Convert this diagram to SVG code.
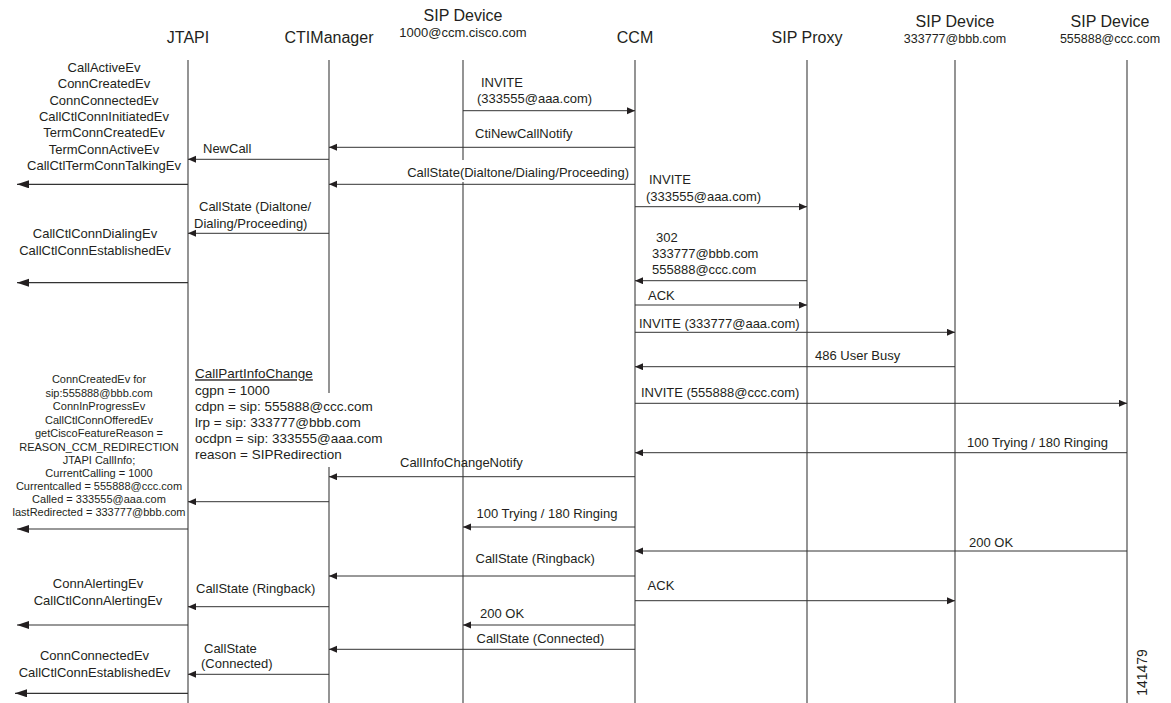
<svg xmlns="http://www.w3.org/2000/svg" width="1171" height="703" viewBox="0 0 1171 703">
<defs>
<marker id="a" markerUnits="userSpaceOnUse" markerWidth="9" markerHeight="8" refX="8" refY="3.5" orient="auto"><path d="M0,0 L8,3.5 L0,7 z" fill="#231f20"/></marker>
<marker id="b" markerUnits="userSpaceOnUse" markerWidth="13" markerHeight="9" refX="12" refY="4" orient="auto"><path d="M0,0 L12,4 L0,8 z" fill="#231f20"/></marker>
</defs>
<style>
text{font-family:"Liberation Sans",Arial,sans-serif;fill:#231f20}
.h{font-size:16px;text-anchor:middle}
.hs{font-size:12.5px;text-anchor:middle}
.t{font-size:13px}
.b{font-size:13.5px}
.c{font-size:13px;text-anchor:middle}
.s{font-size:11px;text-anchor:middle}
.ll{stroke:#666;stroke-width:1.4}
.m{stroke:#333;stroke-width:1;fill:none;marker-end:url(#a)}
.o{stroke:#333;stroke-width:1.2;fill:none;marker-end:url(#b)}
</style>
<rect width="1171" height="703" fill="#fff"/>
<g id="lifelines">
<line class="ll" x1="188" y1="60" x2="188" y2="703"/>
<line class="ll" x1="329" y1="60" x2="329" y2="703"/>
<line class="ll" x1="463" y1="60" x2="463" y2="703"/>
<line class="ll" x1="635" y1="60" x2="635" y2="703"/>
<line class="ll" x1="807" y1="60" x2="807" y2="703"/>
<line class="ll" x1="955" y1="60" x2="955" y2="703"/>
<line class="ll" x1="1127" y1="60" x2="1127" y2="703"/>
<rect x="398" y="160" width="233" height="22" fill="#fff"/>
<rect x="318" y="393" width="24" height="74" fill="#fff"/>
</g>
<g id="jtapi"><text class="h" x="188" y="43">JTAPI</text></g>
<g id="ctimanager"><text class="h" x="329" y="43">CTIManager</text></g>
<g id="sipdevice1000"><text class="h" x="463" y="21">SIP Device</text><text class="hs" x="463" y="37" style="font-size:13px">1000@ccm.cisco.com</text></g>
<g id="ccm"><text class="h" x="635" y="43">CCM</text></g>
<g id="sipproxy"><text class="h" x="807" y="43">SIP Proxy</text></g>
<g id="sipdevice333777"><text class="h" x="955" y="27">SIP Device</text><text class="hs" x="955" y="43">333777@bbb.com</text></g>
<g id="sipdevice555888"><text class="h" x="1110" y="27">SIP Device</text><text class="hs" x="1110" y="43">555888@ccc.com</text></g>
<g id="connectors">
<line class="m" x1="463" y1="110.7" x2="635" y2="110.7"/>
<line class="m" x1="635" y1="147.3" x2="329" y2="147.3"/>
<line class="m" x1="329" y1="159.3" x2="188" y2="159.3"/>
<line class="m" x1="635" y1="184.3" x2="329" y2="184.3"/>
<line class="o" x1="188" y1="184.3" x2="17" y2="184.3"/>
<line class="m" x1="635" y1="206.7" x2="807" y2="206.7"/>
<line class="m" x1="329" y1="233.3" x2="188" y2="233.3"/>
<line class="m" x1="807" y1="280.7" x2="635" y2="280.7"/>
<line class="o" x1="188" y1="282.7" x2="17" y2="282.7"/>
<line class="m" x1="635" y1="305" x2="807" y2="305"/>
<line class="m" x1="635" y1="332.3" x2="955" y2="332.3"/>
<line class="m" x1="955" y1="366.7" x2="635" y2="366.7"/>
<line class="m" x1="635" y1="403.3" x2="1127" y2="403.3"/>
<line class="m" x1="1127" y1="452.7" x2="635" y2="452.7"/>
<line class="m" x1="635" y1="476.7" x2="329" y2="476.7"/>
<line class="m" x1="329" y1="501.7" x2="188" y2="501.7"/>
<line class="m" x1="635" y1="527" x2="463" y2="527"/>
<line class="o" x1="188" y1="529" x2="17" y2="529"/>
<line class="m" x1="1127" y1="551" x2="635" y2="551"/>
<line class="m" x1="635" y1="576" x2="329" y2="576"/>
<line class="m" x1="635" y1="600.7" x2="955" y2="600.7"/>
<line class="m" x1="329" y1="606.7" x2="188" y2="606.7"/>
<line class="m" x1="635" y1="625" x2="463" y2="625"/>
<line class="o" x1="188" y1="625" x2="17" y2="625"/>
<line class="m" x1="635" y1="649.3" x2="329" y2="649.3"/>
<line class="m" x1="329" y1="674.3" x2="188" y2="674.3"/>
<line class="o" x1="188" y1="693.3" x2="15" y2="693.3"/>
</g>
<g id="labels">
<text class="t" x="481" y="86.7">INVITE</text>
<text class="t" x="477" y="103">(333555@aaa.com)</text>
<text class="t" x="475" y="137.7">CtiNewCallNotify</text>
<text class="t" x="203" y="153">NewCall</text>
<text class="t" x="629" y="177" text-anchor="end">CallState(Dialtone/Dialing/Proceeding)</text>
<text class="t" x="649" y="184">INVITE</text>
<text class="t" x="646" y="200.7">(333555@aaa.com)</text>
<text class="t" x="199" y="210.7">CallState (Dialtone/</text>
<text class="t" x="194" y="228">Dialing/Proceeding)</text>
<text class="t" x="656" y="241.7">302</text>
<text class="t" x="652" y="257.7">333777@bbb.com</text>
<text class="t" x="652" y="274.3">555888@ccc.com</text>
<text class="t" x="648" y="300">ACK</text>
<text class="t" x="639" y="327.7">INVITE (333777@aaa.com)</text>
<text class="t" x="815" y="360">486 User Busy</text>
<text class="t" x="641" y="397.3">INVITE (555888@ccc.com)</text>
<text class="t" x="967" y="446.5">100 Trying / 180 Ringing</text>
<text class="t" x="400" y="467">CallInfoChangeNotify</text>
<text class="t" x="476.5" y="518.3">100 Trying / 180 Ringing</text>
<text class="t" x="969" y="547">200 OK</text>
<text class="t" x="475.5" y="562.7">CallState (Ringback)</text>
<text class="t" x="647.6" y="590">ACK</text>
<text class="t" x="196" y="592.7">CallState (Ringback)</text>
<text class="t" x="480" y="617.7">200 OK</text>
<text class="t" x="476.5" y="642.7">CallState (Connected)</text>
<text class="t" x="204" y="652.7">CallState</text>
<text class="t" x="201" y="668.3">(Connected)</text>
</g>
<g id="jtapi-events-1">
<text class="c" x="104" y="72">CallActiveEv</text>
<text class="c" x="104" y="88.3">ConnCreatedEv</text>
<text class="c" x="104" y="104.6">ConnConnectedEv</text>
<text class="c" x="104" y="120.9">CallCtlConnInitiatedEv</text>
<text class="c" x="104" y="137.2">TermConnCreatedEv</text>
<text class="c" x="104" y="153.5">TermConnActiveEv</text>
<text class="c" x="104" y="169.8">CallCtlTermConnTalkingEv</text>
</g>
<g id="jtapi-events-2">
<text class="c" x="95" y="238.3">CallCtlConnDialingEv</text>
<text class="c" x="95" y="255">CallCtlConnEstablishedEv</text>
</g>
<g id="callpartinfochange">
<text class="b" x="195" y="378.3" text-decoration="underline">CallPartInfoChange </text>
<text class="b" x="195" y="395">cgpn = 1000</text>
<text class="b" x="195" y="411">cdpn = sip: 555888@ccc.com</text>
<text class="b" x="195" y="427">lrp = sip: 333777@bbb.com</text>
<text class="b" x="195" y="443.3">ocdpn = sip: 333555@aaa.com</text>
<text class="b" x="195" y="459.3">reason = SIPRedirection</text>
</g>
<g id="jtapi-events-3">
<text class="s" x="99" y="383.3">ConnCreatedEv for</text>
<text class="s" x="99" y="396.8">sip:555888@bbb.com</text>
<text class="s" x="99" y="410.3">ConnInProgressEv</text>
<text class="s" x="99" y="423.8">CallCtlConnOfferedEv</text>
<text class="s" x="99" y="437.3">getCiscoFeatureReason =</text>
<text class="s" x="99" y="450.7">REASON_CCM_REDIRECTION</text>
<text class="s" x="99" y="463.5">JTAPI CallInfo;</text>
<text class="s" x="99" y="476.5">CurrentCalling = 1000</text>
<text class="s" x="99" y="489.5">Currentcalled = 555888@ccc.com</text>
<text class="s" x="99" y="503">Called = 333555@aaa.com</text>
<text class="s" x="99" y="516">lastRedirected = 333777@bbb.com</text>
</g>
<g id="jtapi-events-4">
<text class="c" x="98" y="588">ConnAlertingEv</text>
<text class="c" x="98" y="605">CallCtlConnAlertingEv</text>
</g>
<g id="jtapi-events-5">
<text class="c" x="94.5" y="660">ConnConnectedEv</text>
<text class="c" x="94.5" y="676.7">CallCtlConnEstablishedEv</text>
</g>
<text x="1147" y="672.5" font-size="14" text-anchor="middle" transform="rotate(-90 1147 672.5)">141479</text>
</svg>
